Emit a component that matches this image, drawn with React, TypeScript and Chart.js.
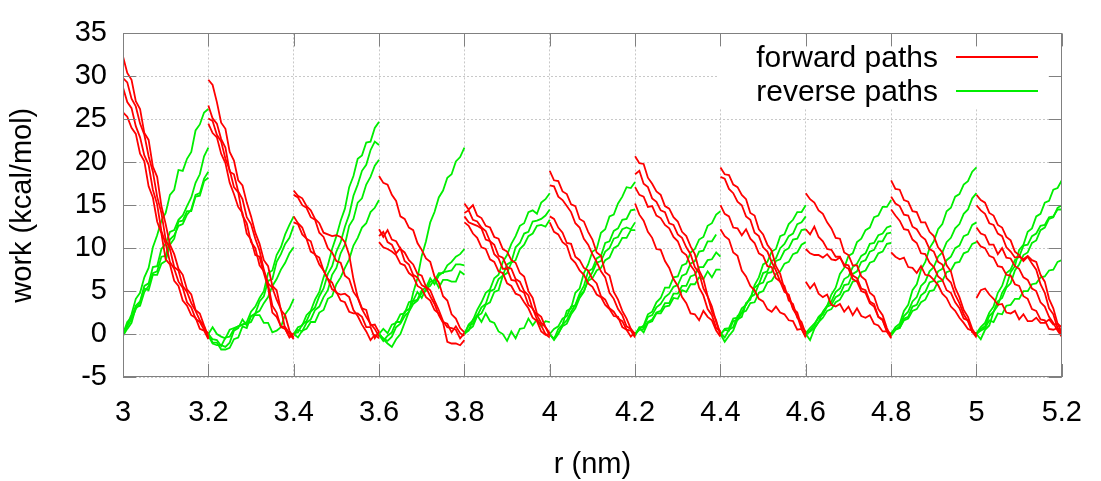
import React, { useEffect, useRef } from "react";
import { Chart, registerables } from "chart.js";

Chart.register(...registerables);

const FONT = "'Liberation Sans', Arial, Helvetica, sans-serif";
const RED = "#ff0000";
const GREEN = "#00ee00";

const xTickValues = [3, 3.2, 3.4, 3.6, 3.8, 4, 4.2, 4.4, 4.6, 4.8, 5, 5.2];
const xTickLabels = ["3", "3.2", "3.4", "3.6", "3.8", "4", "4.2", "4.4", "4.6", "4.8", "5", "5.2"];
const yTickValues = [-5, 0, 5, 10, 15, 20, 25, 30, 35];
const yTickLabels = ["-5", "0", "5", "10", "15", "20", "25", "30", "35"];
const legendLabels = ["forward paths", "reverse paths"];
const windowStarts = [3.0, 3.2, 3.4, 3.6, 3.8, 4.0, 4.2, 4.4, 4.6, 4.8, 5.0, 5.2];
const sampleStep = 0.01;

// work samples every 0.01 nm inside each 0.2 nm window
const forward30 = [
  [32.3, 30.4, 29.6, 27.1, 26.2, 23.4, 22.6, 19.5, 18.3, 14.9, 12.8, 10.4, 9.3, 7.6, 6.9, 5.2, 4.6, 2.8, 2.4, 1.0, -0.3],
  [29.8, 29.3, 27.4, 26.5, 24.5, 23.2, 20.7, 18.9, 16.0, 14.1, 11.0, 9.9, 7.8, 7.4, 5.6, 4.9, 3.6, 2.7, 1.6, 0.9, -0.5],
  [28.7, 27.0, 26.3, 24.2, 22.9, 20.8, 19.7, 16.8, 15.1, 12.0, 10.5, 8.4, 7.6, 6.1, 5.4, 3.7, 3.1, 1.8, 1.4, 0.5, 0.1],
  [25.8, 25.3, 24.0, 23.3, 21.0, 20.1, 17.2, 15.9, 13.1, 11.7, 8.7, 8.1, 6.2, 5.6, 3.9, 3.3, 2.2, 1.9, 0.6, 0.4, -0.6],
];
const reverse30 = [
  [0.0, 1.1, 2.3, 4.1, 4.8, 6.6, 7.7, 10.1, 11.5, 13.2, 14.1, 16.2, 16.8, 19.1, 19.0, 20.4, 21.2, 23.7, 24.4, 25.8, 26.2],
  [0.0, 1.4, 1.9, 3.3, 3.8, 5.6, 5.9, 7.8, 7.9, 9.9, 10.5, 11.9, 12.1, 13.3, 13.8, 14.9, 15.9, 17.6, 18.6, 20.7, 21.7],
  [-0.2, 0.6, 1.3, 3.1, 3.3, 4.9, 5.6, 7.1, 7.3, 9.0, 9.1, 11.0, 11.5, 12.6, 12.8, 13.9, 14.5, 16.2, 16.4, 18.1, 18.9],
  [0.0, 0.9, 1.7, 2.9, 3.7, 5.3, 5.1, 6.9, 6.9, 8.2, 8.5, 10.4, 11.1, 13.1, 13.2, 14.3, 14.3, 16.0, 16.1, 17.8, 18.2],
];
const forward32 = [
  [29.6, 29.0, 27.0, 24.6, 23.9, 21.2, 20.2, 17.9, 17.3, 15.3, 13.7, 11.8, 10.5, 8.6, 7.9, 5.6, 5.1, 2.8, 2.2, 0.4, -0.4],
  [26.6, 25.1, 24.5, 22.7, 21.7, 18.9, 18.6, 16.6, 15.7, 13.6, 12.8, 11.1, 9.7, 7.5, 5.8, 3.3, 2.5, 0.8, 0.6, -0.4, 0.1],
  [25.1, 24.8, 23.2, 22.4, 20.4, 19.1, 17.1, 16.5, 13.8, 12.9, 10.7, 10.0, 8.0, 7.3, 5.9, 5.4, 4.0, 2.9, 0.6, -0.3, -0.3],
  [24.5, 23.4, 22.9, 21.0, 19.9, 17.6, 16.3, 14.8, 14.1, 11.7, 11.0, 9.2, 9.0, 7.1, 5.4, 2.5, 2.0, 0.9, 0.8, 0.1, -0.6],
];
const reverse32 = [
  [0.0, -0.6, -0.7, -1.4, -0.4, -0.3, 0.6, 0.9, 1.1, 1.4, 2.6, 3.2, 4.2, 5.0, 7.1, 7.4, 9.2, 10.1, 11.6, 12.7, 13.7],
  [0.1, -1.0, -1.0, -1.8, -1.8, -1.6, -0.6, -0.4, 0.9, 0.7, 2.1, 2.4, 3.8, 4.4, 6.2, 6.4, 8.4, 9.3, 10.5, 11.2, 12.6],
  [0.0, 0.8, 0.0, -0.3, -0.5, 0.5, 0.7, 0.9, 1.1, 1.2, 1.4, 2.4, 2.7, 3.6, 4.3, 5.6, 6.4, 7.5, 8.3, 9.4, 10.1],
  [-0.2, -1.1, -1.3, -1.3, -1.5, -1.0, 0.4, 0.7, 1.7, 1.0, 2.1, 2.2, 2.2, 1.3, 1.3, 0.2, 0.4, 0.8, 2.3, 3.0, 4.1],
];
const forward34 = [
  [16.7, 16.1, 15.8, 14.9, 14.4, 13.4, 12.9, 11.8, 11.6, 11.4, 11.5, 11.3, 10.7, 9.2, 6.4, 4.3, 3.0, 2.8, 1.0, 1.1, 0.2],
  [16.2, 15.9, 15.0, 14.7, 13.6, 13.3, 11.8, 11.3, 10.0, 9.5, 8.5, 8.3, 6.8, 6.4, 4.9, 4.2, 2.9, 2.0, 1.2, 0.6, -0.3],
  [13.7, 12.9, 12.4, 11.1, 10.8, 9.2, 8.9, 7.4, 6.4, 5.2, 4.9, 3.9, 3.7, 2.6, 2.4, 2.4, 2.0, 0.8, 0.8, -0.5, 0.3],
  [13.0, 12.8, 11.6, 11.1, 9.6, 9.3, 8.1, 7.4, 6.4, 6.0, 4.8, 4.6, 4.7, 4.3, 2.8, 2.1, 1.1, 0.3, -0.7, -0.1, -0.5],
];
const reverse34 = [
  [0.0, 0.8, 1.0, 2.2, 2.7, 4.0, 4.9, 6.6, 8.0, 9.9, 11.4, 13.2, 14.6, 17.1, 18.4, 20.4, 20.8, 22.3, 22.4, 24.0, 24.7],
  [0.1, 0.2, 1.1, 1.5, 2.6, 3.1, 4.4, 5.3, 7.0, 7.9, 9.6, 10.7, 12.5, 13.9, 16.1, 17.4, 19.0, 19.7, 21.4, 22.4, 22.0],
  [-0.1, 0.5, 0.3, 1.3, 1.7, 2.8, 3.2, 4.3, 5.1, 6.9, 7.7, 9.4, 10.4, 12.6, 13.4, 15.3, 15.8, 17.4, 18.3, 19.6, 20.3],
  [0.0, -0.4, 0.4, 0.6, 1.4, 1.4, 2.5, 2.8, 4.1, 4.4, 5.8, 6.6, 7.7, 8.7, 10.3, 11.2, 12.4, 12.9, 14.2, 14.7, 15.6],
];
const forward36 = [
  [18.4, 17.6, 17.4, 16.2, 15.5, 13.7, 13.4, 12.4, 12.1, 10.6, 9.8, 8.8, 8.4, 6.7, 6.0, 4.4, 3.9, 2.3, 1.8, 0.7, 0.2],
  [12.2, 11.3, 12.1, 11.0, 10.8, 9.9, 9.5, 8.6, 8.1, 7.0, 6.8, 5.5, 5.1, 3.9, 2.8, 1.5, 0.8, 0.7, 0.5, -0.5, 0.1],
  [11.4, 11.9, 10.7, 10.4, 9.4, 10.0, 8.5, 8.1, 6.9, 6.6, 5.7, 5.4, 4.4, 3.5, 2.2, 1.3, -0.9, -1.1, -1.1, -1.3, -0.7],
  [10.7, 10.1, 9.9, 9.6, 9.2, 8.2, 8.0, 7.1, 6.7, 5.6, 5.3, 4.3, 3.9, 2.8, 2.4, 1.4, 1.2, 0.2, 0.9, 0.1, -0.2],
];
const reverse36 = [
  [0.1, -0.6, -1.1, -1.5, -0.6, 0.0, 1.3, 2.6, 4.8, 6.5, 9.1, 10.8, 13.0, 14.2, 15.9, 16.7, 18.2, 18.6, 20.1, 20.6, 21.7],
  [0.0, -0.5, -0.8, -0.3, 0.8, 1.2, 2.1, 2.6, 3.5, 3.9, 4.8, 5.0, 6.1, 6.2, 7.1, 7.1, 8.0, 8.4, 9.0, 9.3, 9.9],
  [-0.1, -0.8, -0.2, 0.2, 1.4, 1.4, 2.6, 2.9, 3.8, 4.0, 5.1, 5.4, 6.5, 5.8, 6.8, 7.2, 7.3, 7.4, 8.1, 8.1, 8.0],
  [0.0, 0.6, 0.1, 1.1, 1.3, 2.3, 2.4, 3.7, 3.9, 4.9, 4.2, 5.3, 5.6, 6.4, 5.4, 6.3, 6.3, 6.1, 6.1, 7.3, 6.9],
];
const forward38 = [
  [15.2, 14.5, 15.0, 13.8, 13.5, 12.6, 12.4, 11.3, 11.1, 9.9, 9.6, 8.6, 8.3, 7.1, 6.7, 5.0, 4.2, 2.4, 2.0, 0.8, -0.2],
  [14.1, 14.4, 13.3, 13.1, 12.4, 12.0, 10.8, 10.4, 9.1, 8.9, 7.8, 7.6, 6.4, 6.1, 5.0, 4.5, 2.9, 2.2, 1.3, 0.8, 0.1],
  [13.7, 13.0, 12.8, 12.6, 12.3, 11.0, 10.8, 9.3, 8.8, 7.6, 7.6, 6.3, 6.2, 5.1, 4.8, 3.4, 3.0, 1.7, 1.0, 0.0, -0.4],
  [13.0, 12.6, 11.7, 11.2, 10.1, 9.9, 8.7, 8.4, 7.3, 7.1, 5.9, 5.6, 4.7, 4.5, 3.7, 3.0, 1.9, 1.5, 0.3, -0.1, 0.0],
];
const reverse38 = [
  [0.0, 1.1, 1.6, 2.8, 3.7, 4.8, 5.2, 6.5, 6.9, 8.4, 9.2, 10.5, 11.4, 12.6, 12.9, 14.2, 14.4, 14.0, 15.3, 15.7, 16.4],
  [0.1, 0.4, 1.7, 2.1, 3.1, 3.5, 5.0, 5.2, 6.4, 6.8, 8.1, 8.4, 10.1, 10.6, 11.7, 11.9, 13.1, 13.2, 13.4, 13.8, 14.5],
  [0.0, 0.5, 0.9, 2.1, 2.4, 3.4, 3.7, 4.9, 5.1, 6.8, 7.1, 8.3, 8.6, 9.9, 10.4, 11.4, 11.7, 12.6, 12.7, 12.5, 13.3],
  [0.0, 1.0, 1.2, 2.2, 1.4, 2.4, 1.5, 1.3, 0.3, 0.0, -0.8, 0.3, -0.5, 0.6, 0.7, 1.8, 1.0, 1.7, 0.9, 1.5, 1.4],
];
const forward40 = [
  [19.0, 17.9, 17.8, 16.6, 16.3, 15.1, 14.9, 13.4, 13.1, 11.9, 11.0, 9.5, 9.1, 7.2, 6.8, 4.9, 4.0, 2.7, 1.8, 0.6, 0.0],
  [17.3, 17.2, 16.0, 15.6, 14.9, 14.2, 12.9, 12.4, 11.1, 10.4, 9.3, 8.4, 7.3, 6.6, 4.8, 4.1, 2.9, 2.2, 0.9, 0.6, -0.2],
  [13.7, 13.4, 12.4, 11.8, 10.6, 10.5, 9.0, 8.6, 7.7, 7.4, 6.4, 5.9, 4.4, 4.0, 3.0, 2.6, 1.8, 1.5, 0.5, 0.4, -0.4],
  [13.0, 11.9, 11.6, 10.7, 10.3, 8.8, 8.3, 7.4, 6.9, 5.9, 5.5, 4.6, 4.3, 3.4, 2.9, 2.1, 2.0, 0.8, 0.5, -0.3, 0.2],
];
const reverse40 = [
  [0.0, -0.6, 0.6, 1.1, 2.7, 3.0, 4.8, 5.3, 7.1, 8.1, 9.6, 9.9, 11.8, 12.2, 13.7, 13.9, 15.2, 16.0, 17.1, 17.0, 17.7],
  [0.0, -0.7, 0.0, 1.1, 1.6, 2.6, 3.4, 4.7, 5.6, 7.3, 7.6, 8.8, 9.1, 10.6, 10.8, 12.0, 12.3, 13.3, 13.4, 14.4, 14.5],
  [-0.1, -0.5, 0.1, 0.9, 1.2, 2.3, 3.0, 4.2, 4.9, 6.4, 7.2, 8.3, 8.5, 9.6, 10.0, 11.1, 11.3, 12.2, 12.4, 12.2, 13.0],
  [0.0, 0.6, 0.9, 1.8, 2.1, 3.2, 3.3, 4.5, 5.0, 6.2, 6.5, 7.4, 7.7, 8.6, 8.9, 10.0, 10.3, 11.2, 11.2, 12.1, 12.1],
];
const forward42 = [
  [20.7, 19.9, 19.8, 18.2, 17.5, 16.6, 16.2, 14.9, 14.6, 13.6, 13.1, 11.9, 11.4, 10.2, 9.3, 7.4, 6.4, 4.4, 3.2, 1.4, 0.1],
  [18.6, 19.0, 17.5, 17.1, 15.8, 15.4, 14.4, 14.2, 12.9, 12.7, 11.6, 11.2, 10.1, 9.3, 7.8, 7.1, 5.3, 4.4, 2.6, 1.6, -0.2],
  [17.1, 16.2, 16.0, 14.8, 14.9, 13.8, 13.5, 12.7, 12.3, 11.3, 10.8, 9.6, 9.2, 8.0, 7.3, 5.4, 4.5, 2.9, 2.2, 0.7, 0.3],
  [15.2, 13.9, 13.2, 11.9, 11.2, 9.9, 9.8, 8.5, 7.7, 6.4, 5.6, 4.3, 3.6, 2.4, 2.3, 1.6, 2.7, 2.0, 1.6, 0.4, -0.3],
];
const reverse42 = [
  [0.0, 0.6, 1.0, 2.3, 2.6, 3.7, 4.2, 5.4, 5.4, 6.6, 6.7, 8.0, 8.2, 9.5, 9.9, 11.0, 11.3, 12.6, 12.9, 13.9, 14.3],
  [-0.2, 0.8, 0.8, 2.0, 2.2, 3.1, 3.5, 4.3, 4.7, 5.5, 5.7, 6.8, 7.0, 8.2, 8.5, 9.6, 9.7, 10.8, 10.8, 11.6, null],
  [0.0, 0.5, 0.6, 1.4, 1.7, 2.5, 2.7, 3.6, 3.6, 4.7, 4.7, 5.6, 5.6, 6.7, 6.9, 7.8, 7.8, 8.6, 8.7, 9.5, 9.0],
  [0.0, 0.7, 0.2, 1.3, 1.5, 2.4, 2.4, 3.2, 3.3, 4.2, 4.1, 5.1, 4.9, 5.8, 5.8, 6.6, 6.4, 7.3, 6.6, 7.5, 7.5],
];
const forward44 = [
  [19.4, 18.6, 18.5, 17.4, 17.1, 16.2, 15.7, 14.1, 13.8, 12.2, 11.6, 10.4, 9.7, 7.9, 7.0, 5.2, 4.4, 2.9, 2.1, 0.6, -0.3],
  [18.3, 18.1, 16.9, 16.4, 15.4, 15.0, 13.7, 13.3, 11.8, 11.4, 10.1, 9.6, 8.4, 7.4, 6.1, 5.6, 3.9, 3.5, 1.9, 1.4, 0.0],
  [15.0, 14.0, 13.7, 12.4, 12.3, 11.5, 12.2, 11.1, 10.6, 9.4, 9.1, 7.9, 7.8, 6.5, 6.1, 4.9, 4.6, 3.0, 2.5, 0.9, 0.2],
  [12.2, 11.4, 11.0, 9.5, 9.1, 7.4, 6.7, 5.6, 5.1, 4.1, 3.8, 2.9, 2.6, 3.2, 2.5, 2.3, 1.6, 1.5, 0.5, 0.6, -0.4],
];
const reverse44 = [
  [0.0, -0.9, -0.2, 0.4, 1.7, 2.0, 3.6, 4.0, 5.7, 6.6, 8.1, 8.4, 9.6, 9.9, 11.4, 11.6, 12.8, 13.3, 14.2, 14.2, 15.0],
  [0.1, -0.4, 0.5, 0.8, 2.1, 2.5, 3.5, 4.2, 5.4, 5.8, 7.1, 7.3, 8.5, 8.8, 10.0, 10.5, 11.4, 11.7, 12.8, 13.0, 13.7],
  [-0.1, 0.6, 0.7, 1.8, 1.9, 3.0, 3.4, 4.3, 4.6, 5.8, 6.0, 7.1, 7.2, 8.5, 8.7, 9.7, 10.0, 11.0, 11.1, 12.1, 12.2],
  [0.0, 0.5, 0.4, 1.5, 1.6, 2.5, 2.7, 3.6, 3.7, 4.8, 5.0, 6.0, 6.2, 7.0, 7.3, 8.2, 8.4, 9.3, 9.5, 10.4, 10.7],
];
const forward46 = [
  [16.4, 15.7, 15.3, 14.4, 14.0, 13.0, 12.3, 11.2, 11.1, 9.5, 9.2, 8.0, 8.0, 6.7, 6.3, 4.8, 4.4, 2.9, 2.2, 0.7, -0.4],
  [12.2, 11.6, 12.5, 11.3, 10.8, 9.9, 9.8, 9.0, 9.0, 7.9, 7.6, 6.4, 6.1, 5.0, 4.8, 3.6, 3.2, 2.0, 1.7, 0.4, 0.0],
  [9.9, 9.4, 9.2, 9.2, 8.9, 9.3, 8.7, 8.6, 8.9, 8.1, 8.0, 6.8, 6.5, 5.3, 5.1, 3.8, 3.5, 2.0, 1.6, 0.3, -0.2],
  [6.1, 5.3, 5.9, 4.7, 4.3, 4.6, 3.4, 3.2, 3.5, 2.6, 3.2, 2.2, 3.0, 2.1, 1.9, 2.2, 1.2, 1.0, 0.3, 0.3, -0.5],
];
const reverse46 = [
  [0.0, -0.7, 0.6, 1.4, 2.6, 3.3, 4.6, 5.4, 7.0, 7.7, 9.1, 9.4, 10.7, 11.1, 12.1, 12.4, 13.6, 13.8, 14.8, 14.8, 15.6],
  [0.0, 0.4, 1.0, 2.0, 2.5, 3.3, 3.8, 4.9, 5.3, 6.4, 6.7, 7.8, 8.2, 9.1, 9.4, 10.5, 10.6, 11.5, 11.7, 12.4, 12.6],
  [0.1, 0.7, 1.2, 1.9, 2.3, 3.2, 3.4, 4.3, 4.6, 5.7, 5.8, 7.0, 7.3, 8.4, 8.6, 9.6, 9.8, 10.8, 10.8, 11.7, 11.8],
  [-0.1, 0.3, 0.7, 1.4, 1.9, 2.7, 2.9, 3.7, 4.0, 4.9, 5.1, 6.1, 6.2, 7.2, 7.4, 8.3, 8.5, 9.4, 9.6, 10.5, 10.6],
];
const forward48 = [
  [17.9, 16.9, 16.8, 15.6, 15.4, 14.3, 14.2, 13.0, 13.0, 11.9, 11.4, 10.1, 9.5, 8.0, 7.3, 5.4, 4.3, 2.8, 2.0, 0.6, -0.2],
  [16.0, 15.2, 14.9, 13.9, 13.8, 12.5, 12.2, 11.4, 11.0, 9.9, 9.6, 8.4, 8.1, 6.5, 6.0, 4.6, 3.6, 2.3, 1.5, 0.3, -0.4],
  [14.5, 13.8, 13.2, 12.2, 12.1, 11.0, 10.6, 9.4, 9.3, 8.3, 7.8, 6.7, 6.3, 5.1, 4.8, 3.7, 3.0, 1.8, 1.6, 0.2, 0.1],
  [9.5, 9.0, 8.7, 8.9, 7.8, 7.7, 7.1, 7.9, 6.9, 6.8, 6.3, 5.7, 4.7, 4.2, 3.2, 2.7, 1.9, 1.3, 0.6, 0.4, -0.3],
];
const reverse48 = [
  [0.0, 0.8, 1.2, 2.7, 3.4, 5.1, 5.8, 7.5, 8.4, 10.0, 10.8, 12.2, 12.8, 14.3, 14.7, 16.0, 16.3, 17.4, 17.8, 18.9, 19.4],
  [-0.2, 0.5, 0.9, 2.1, 2.6, 3.8, 4.3, 5.6, 6.1, 7.3, 7.8, 9.0, 9.5, 10.7, 11.2, 12.3, 12.8, 14.0, 14.5, 15.8, 16.4],
  [0.0, 0.5, 0.7, 1.8, 2.0, 3.2, 3.4, 4.5, 4.9, 6.0, 6.2, 7.3, 7.6, 8.6, 9.0, 10.0, 10.3, 11.4, 11.6, 12.7, 13.0],
  [0.1, 0.6, 0.7, 1.6, 1.8, 2.7, 2.9, 3.7, 4.0, 5.0, 5.1, 6.1, 6.2, 7.2, 7.4, 8.3, 8.4, 9.4, 9.6, 10.5, 10.7],
];
const forward50 = [
  [16.2, 15.6, 15.3, 14.1, 13.8, 12.7, 12.4, 11.3, 10.9, 9.6, 9.2, 8.5, 9.0, 8.2, 7.5, 5.8, 4.8, 3.0, 2.3, 0.7, -0.1],
  [15.0, 14.4, 14.0, 12.9, 12.7, 11.7, 11.4, 10.1, 9.6, 8.9, 9.0, 8.7, 9.1, 8.6, 8.4, 6.9, 6.1, 4.1, 3.0, 1.2, 0.2],
  [12.4, 11.7, 11.5, 10.4, 10.4, 9.3, 10.0, 8.9, 8.8, 7.9, 7.6, 6.6, 6.3, 5.3, 5.0, 3.7, 3.2, 2.0, 1.3, 0.4, -0.3],
  [10.9, 10.2, 10.0, 9.1, 8.9, 7.9, 7.8, 6.9, 6.8, 5.8, 5.6, 4.4, 4.1, 2.9, 2.7, 1.7, 1.6, 0.6, 0.5, 0.7, 0.1],
  [4.2, 5.1, 5.3, 4.6, 4.1, 3.4, 3.5, 2.5, 2.4, 2.7, 1.7, 2.3, 1.5, 1.5, 1.9, 1.3, 1.3, 1.7, 1.1, 1.2, 0.8],
];
const reverse50 = [
  [0.0, -0.6, 0.5, 1.0, 2.6, 3.3, 4.8, 5.6, 7.2, 7.9, 9.8, 10.4, 11.9, 12.3, 13.7, 14.0, 15.3, 15.5, 16.8, 17.0, 17.9],
  [0.0, 0.6, 0.9, 2.1, 2.6, 3.8, 4.2, 5.4, 5.9, 7.4, 8.1, 9.2, 9.5, 10.6, 10.9, 12.1, 12.4, 13.4, 13.6, 14.7, 15.0],
  [0.1, 0.8, 1.3, 2.5, 3.2, 4.8, 5.6, 7.1, 7.5, 8.6, 9.0, 10.3, 10.4, 11.4, 11.7, 12.6, 12.7, 13.6, 13.7, 14.5, 14.5],
  [0.0, 0.4, 0.7, 1.6, 1.4, 2.4, 2.3, 3.3, 3.4, 4.1, 4.1, 5.0, 5.0, 5.8, 5.9, 6.6, 6.7, 7.4, 7.5, 8.4, 8.6],
];
const forward52 = [
  [22.0, 21.2],
  [16.4, 15.8],
  [14.6, 13.9],
  [13.3, 12.7],
];

const forwardWindows = [forward30, forward32, forward34, forward36, forward38, forward40, forward42, forward44, forward46, forward48, forward50, forward52];
const reverseWindows = [reverse30, reverse32, reverse34, reverse36, reverse38, reverse40, reverse42, reverse44, reverse46, reverse48, reverse50];

function toPoints(start: number, ys: (number | null)[]) {
  return ys.map((y, i) => ({ x: start + i * sampleStep, y }));
}

const framePlugin = {
  id: "gnuframe",
  beforeDatasetsDraw(chart: any) {
    const { ctx, chartArea: a } = chart;
    ctx.save();
    ctx.fillStyle = "#ffffff";
    ctx.fillRect(718, a.top + 1, a.right - 1 - 718, 108 - a.top - 1);
    ctx.restore();
  },
  afterDatasetsDraw(chart: any) {
    const { ctx, chartArea: a, scales } = chart;
    const tl = 13;
    ctx.save();
    ctx.strokeStyle = "#808080";
    ctx.lineWidth = 1;
    ctx.beginPath();
    xTickValues.forEach((v) => {
      const px = Math.round(scales.x.getPixelForValue(v)) + 0.5;
      ctx.moveTo(px, a.bottom);
      ctx.lineTo(px, a.bottom - tl);
      ctx.moveTo(px, a.top);
      ctx.lineTo(px, a.top + tl);
    });
    yTickValues.forEach((v) => {
      const py = Math.round(scales.y.getPixelForValue(v)) + 0.5;
      ctx.moveTo(a.left, py);
      ctx.lineTo(a.left + tl, py);
      ctx.moveTo(a.right, py);
      ctx.lineTo(a.right - tl, py);
    });
    ctx.stroke();
    ctx.strokeRect(Math.round(a.left) + 0.5, Math.round(a.top) + 0.5, Math.round(a.right - a.left) - 1, Math.round(a.bottom - a.top) - 1);

    ctx.font = `30px ${FONT}`;
    ctx.fillStyle = "#000000";
    ctx.textAlign = "right";
    ctx.textBaseline = "alphabetic";
    legendLabels.forEach((t, k) => {
      const by = 67 + k * 34;
      ctx.fillText(t, 938, by);
      ctx.strokeStyle = k === 0 ? RED : GREEN;
      ctx.lineWidth = 1.8;
      ctx.beginPath();
      ctx.moveTo(956, by - 10);
      ctx.lineTo(1038, by - 10);
      ctx.stroke();
    });
    ctx.restore();
  },
};

export default function App() {
  const ref = useRef<HTMLCanvasElement | null>(null);

  useEffect(() => {
    const datasets: any[] = [];
    forwardWindows.forEach((paths, w) =>
      paths.forEach((ys) =>
        datasets.push({
          label: legendLabels[0],
          data: toPoints(windowStarts[w], ys),
          borderColor: RED,
          backgroundColor: RED,
          borderWidth: 1.8,
          pointRadius: 0,
          fill: false,
          tension: 0,
          spanGaps: false,
        })
      )
    );
    reverseWindows.forEach((paths, w) =>
      paths.forEach((ys) =>
        datasets.push({
          label: legendLabels[1],
          data: toPoints(windowStarts[w], ys),
          borderColor: GREEN,
          backgroundColor: GREEN,
          borderWidth: 1.8,
          pointRadius: 0,
          fill: false,
          tension: 0,
          spanGaps: false,
        })
      )
    );

    const tickFont = { family: FONT, size: 29 };
    const titleFont = { family: FONT, size: 29 };

    const chart = new Chart(ref.current as HTMLCanvasElement, {
      type: "line",
      data: { datasets },
      options: {
        responsive: false,
        animation: false,
        devicePixelRatio: 1,
        layout: { padding: { top: 26, right: 29, left: 0, bottom: 0 } },
        plugins: { legend: { display: false }, tooltip: { enabled: false } },
        scales: {
          x: {
            type: "linear",
            min: 3,
            max: 5.2,
            afterBuildTicks: (s: any) => {
              s.ticks = xTickValues.map((v) => ({ value: v }));
            },
            afterFit: (s: any) => {
              s.height = 104;
            },
            ticks: {
              callback: (_v: any, i: number) => xTickLabels[i],
              font: tickFont,
              color: "#000000",
              padding: 19,
              maxRotation: 0,
              autoSkip: false,
            },
            grid: { color: "#c8c8c8", lineWidth: 1, drawTicks: false },
            border: { display: false, dash: [2, 2] },
            title: { display: true, text: "r (nm)", font: titleFont, color: "#000000", padding: { top: 0, bottom: -1 } },
          },
          y: {
            type: "linear",
            min: -5,
            max: 35,
            afterBuildTicks: (s: any) => {
              s.ticks = yTickValues.map((v) => ({ value: v }));
            },
            afterFit: (s: any) => {
              s.width = 123;
            },
            ticks: {
              callback: (_v: any, i: number) => yTickLabels[i],
              font: tickFont,
              color: "#000000",
              padding: 16,
              autoSkip: false,
            },
            grid: { color: "#c8c8c8", lineWidth: 1, drawTicks: false },
            border: { display: false, dash: [2, 2] },
            title: { display: true, text: "work (kcal/mol)", font: titleFont, color: "#000000", padding: { top: 6, bottom: 0 } },
          },
        },
      } as any,
      plugins: [framePlugin],
    });
    return () => chart.destroy();
  }, []);

  return (
    <div style={{ position: "fixed", left: 0, top: 0, width: 1101, height: 481, background: "#ffffff" }}>
      <canvas ref={ref} width={1101} height={481} style={{ display: "block", width: 1101, height: 481 }} />
    </div>
  );
}
